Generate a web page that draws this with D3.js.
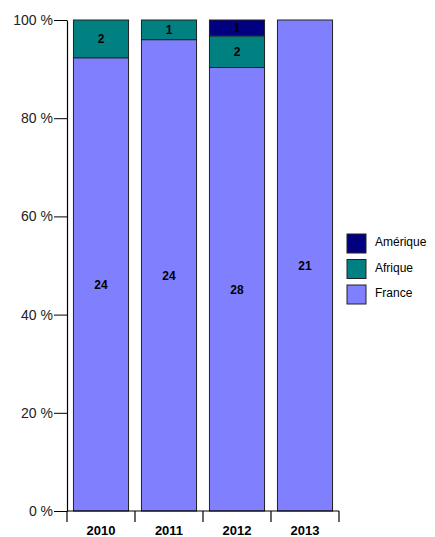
<!DOCTYPE html>
<html><head><meta charset="utf-8">
<script src="https://cdn.jsdelivr.net/npm/d3@7"></script>
<style>body{margin:0;background:#fff}svg{display:block;font-family:"Liberation Sans",Arial,sans-serif}</style>
</head><body>
<script>
const years = ["2010","2011","2012","2013"];
const seriesNames = ["France","Afrique","Amérique"];
const france = [24,24,28,21];
const afrique = [2,1,2,0];
const amerique = [0,0,1,0];
const colors = ["#8080FF","#008080","#000080"];
const yTicks = [0,0.2,0.4,0.6,0.8,1];

const FONT="'Liberation Sans',Arial,sans-serif";
const W=435,H=537;
const svg=d3.select("body").append("svg").attr("width",W).attr("height",H);
const x=d3.scaleBand().domain(years).range([67,339]).paddingInner(0.19).paddingOuter(0.095);
const y=d3.scaleLinear().domain([0,1]).range([511,20]);

const rows=years.map((yr,i)=>({year:yr,France:france[i],Afrique:afrique[i],"Amérique":amerique[i]}));
const stack=d3.stack().keys(seriesNames).offset(d3.stackOffsetExpand);
const stacked=stack(rows);

const g=svg.append("g");
stacked.forEach((s,si)=>{
  s.forEach((d,i)=>{
    const v=d.data[s.key];
    if(v<=0) return;
    g.append("rect").attr("x",x(d.data.year)).attr("width",x.bandwidth())
      .attr("y",y(d[1])).attr("height",y(d[0])-y(d[1]))
      .attr("fill",colors[si]).attr("stroke","#222").attr("stroke-width",1);
    g.append("text").attr("x",x(d.data.year)+x.bandwidth()/2).attr("y",(y(d[0])+y(d[1]))/2)
      .attr("dy","0.36em").attr("text-anchor","middle").attr("font-size",12).attr("font-weight","bold")
      .attr("font-family",FONT).attr("fill","#000").text(v);
  });
});

// y axis
const ya=d3.axisLeft(y).tickValues(yTicks).tickFormat(d=>Math.round(d*100)+" %").tickSize(13).tickSizeOuter(0);
const yg=svg.append("g").attr("transform","translate(67,0)").call(ya);
yg.selectAll("text").attr("font-size",14).attr("fill","#222").attr("font-family",FONT).attr("x",-14);
yg.select(".domain").attr("stroke","#000").attr("stroke-width",1.2);
yg.selectAll(".tick line").attr("stroke","#000");

// x axis
svg.append("line").attr("x1",67).attr("x2",339).attr("y1",511).attr("y2",511).attr("stroke","#000").attr("stroke-width",1.2);
const bounds=years.map(yr=>x(yr)-x.step()*x.paddingInner()/2);
bounds.push(339);
bounds[0]=67;
svg.selectAll(".xb").data(bounds).enter().append("line")
  .attr("x1",d=>d).attr("x2",d=>d).attr("y1",511).attr("y2",522).attr("stroke","#000").attr("stroke-width",1.2);
svg.selectAll(".xl").data(years).enter().append("text")
  .attr("x",d=>x(d)+x.bandwidth()/2).attr("y",535).attr("text-anchor","middle")
  .attr("font-size",13).attr("font-weight","bold").attr("font-family",FONT).attr("fill","#000").text(d=>d);

// legend
const legendOrder=[2,1,0];
legendOrder.forEach((si,k)=>{
  const ly=234+k*25.5;
  svg.append("rect").attr("x",347).attr("y",ly).attr("width",19).attr("height",19)
    .attr("fill",colors[si]).attr("stroke","#222").attr("stroke-width",1);
  svg.append("text").attr("x",375).attr("y",ly+8).attr("dy","0.36em").attr("font-size",12)
    .attr("font-family",FONT).attr("fill","#000").text(seriesNames[si]);
});
</script>
</body></html>
